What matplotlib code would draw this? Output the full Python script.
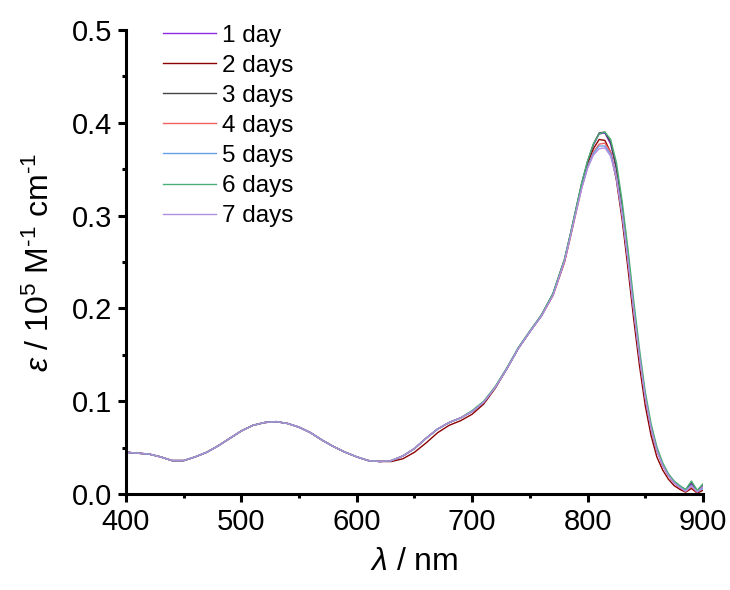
import matplotlib
matplotlib.use("Agg")
import matplotlib.pyplot as plt
from matplotlib.ticker import MultipleLocator, FormatStrFormatter

plt.rcParams['font.family'] = ['Liberation Sans', 'DejaVu Sans']
plt.rcParams['mathtext.fontset'] = 'custom'
plt.rcParams['mathtext.rm'] = 'Liberation Sans'
plt.rcParams['mathtext.it'] = 'Liberation Sans:italic'

# wavelength grid (nm)
wl = list(range(400, 781, 10)) + list(range(785, 901, 5))

labels = ['1 day', '2 days', '3 days', '4 days', '5 days', '6 days', '7 days']
colors = ['#8a2be2', '#8b0000', '#444444', '#f06262', '#6a9fe8', '#4cae78', '#b08ee0']

# epsilon / 1e5 M-1 cm-1
day1 = [.045, .044, .043, .040, .036, .036, .040, .045, .052, .060, .068, .074, .077, .078, .076, .072, .066, .058, .051, .045,
        .040, .036, .035, .036, .041, .049, .060, .070, .077, .082, .089, .099, .115, .135, .157, .175, .192, .215, .252,
        .279, .307, .335, .358, .376, .388, .389, .377, .350, .308, .257, .200, .149, .104, .071, .047, .031, .020, .012,
        .007, .003, .011, .002, .009]
day2 = [.045, .044, .043, .040, .036, .036, .040, .045, .052, .060, .068, .074, .077, .078, .076, .072, .066, .058, .051, .045,
        .040, .036, .035, .035, .038, .045, .055, .066, .074, .079, .086, .097, .114, .135, .157, .175, .192, .214, .250,
        .277, .305, .333, .356, .372, .382, .381, .368, .338, .295, .243, .188, .138, .095, .063, .040, .026, .016, .009,
        .005, .002, .006, .001, .004]
day3 = [.045, .044, .043, .040, .036, .036, .040, .045, .052, .060, .068, .074, .077, .078, .076, .072, .066, .058, .051, .045,
        .040, .036, .035, .036, .041, .049, .060, .070, .077, .082, .089, .099, .115, .135, .157, .175, .193, .216, .253,
        .279, .307, .335, .358, .377, .389, .390, .379, .351, .309, .258, .201, .150, .105, .072, .048, .032, .021, .013,
        .008, .004, .013, .003, .010]
day4 = [.045, .044, .043, .040, .036, .036, .040, .045, .052, .060, .068, .074, .077, .078, .076, .072, .066, .058, .051, .045,
        .040, .036, .035, .036, .041, .049, .060, .070, .077, .082, .089, .099, .115, .135, .157, .175, .192, .214, .250,
        .276, .303, .330, .352, .368, .377, .378, .368, .342, .302, .252, .197, .147, .103, .070, .047, .031, .020, .012,
        .007, .003, .008, .002, .007]
day5 = [.045, .044, .043, .040, .036, .036, .040, .045, .052, .060, .068, .074, .077, .078, .076, .072, .066, .058, .051, .045,
        .040, .036, .035, .036, .041, .049, .060, .070, .077, .082, .089, .099, .115, .135, .157, .175, .192, .215, .252,
        .278, .305, .331, .352, .367, .375, .375, .366, .341, .302, .253, .199, .149, .105, .072, .048, .032, .021, .013,
        .008, .004, .009, .003, .006]
day6 = [.045, .044, .043, .040, .036, .036, .040, .045, .052, .060, .068, .074, .077, .078, .076, .072, .066, .058, .051, .045,
        .040, .036, .035, .036, .041, .049, .060, .070, .077, .082, .090, .100, .116, .136, .158, .176, .193, .216, .253,
        .280, .308, .336, .359, .377, .388, .390, .382, .357, .315, .264, .208, .156, .110, .076, .051, .034, .022, .014,
        .009, .005, .014, .004, .011]
day7 = [.045, .044, .043, .040, .036, .036, .040, .045, .052, .060, .068, .074, .077, .078, .076, .072, .066, .058, .051, .045,
        .040, .036, .035, .036, .041, .049, .060, .070, .077, .082, .089, .099, .115, .135, .157, .175, .192, .214, .251,
        .277, .304, .330, .351, .365, .372, .373, .364, .340, .301, .252, .198, .148, .104, .071, .047, .031, .020, .012,
        .007, .003, .009, .002, .008]

series = [day1, day2, day3, day4, day5, day6, day7]

fig = plt.figure(figsize=(7.3, 5.9), dpi=100)
ax = fig.add_axes([0.1726, 0.1627, 0.7904, 0.7865])

for s, c, lab in zip(series, colors, labels):
    ax.plot(wl, s, color=c, lw=1.0, label=lab)

ax.set_xlim(400, 900)
ax.set_ylim(0, 0.5)
ax.xaxis.set_major_locator(MultipleLocator(100))
ax.xaxis.set_minor_locator(MultipleLocator(50))
ax.yaxis.set_major_locator(MultipleLocator(0.1))
ax.yaxis.set_minor_locator(MultipleLocator(0.05))
ax.yaxis.set_major_formatter(FormatStrFormatter('%.1f'))

for sp in ['top', 'right']:
    ax.spines[sp].set_visible(False)
for sp in ['left', 'bottom']:
    ax.spines[sp].set_linewidth(2.2)

ax.tick_params(which='major', direction='out', length=6, width=2.2, labelsize=21, pad=4)
ax.tick_params(which='minor', direction='out', length=3, width=2.2)

ax.set_xlabel(r'$\lambda$ / nm', fontsize=23, labelpad=8)
ax.set_ylabel(r'$\varepsilon$ / 10$^5$ M$^{\text{-}1}$ cm$^{\text{-}1}$', fontsize=23, labelpad=11)

ax.legend(loc='upper left', bbox_to_anchor=(0.047, 1.032), frameon=False, fontsize=17.5,
          handlelength=2.2, handletextpad=0.25, labelspacing=0.33, borderaxespad=0)

fig.savefig('out.png', dpi=100)
